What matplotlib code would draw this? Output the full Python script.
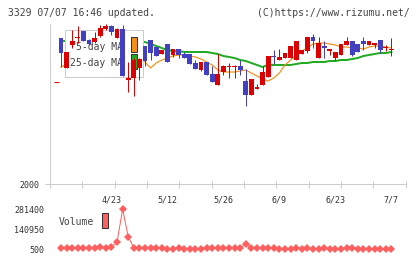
import matplotlib
matplotlib.use('Agg')
import matplotlib.pyplot as plt
from matplotlib.patches import Rectangle
import numpy as np

# daily candles
opens = [2438, 2348, 2417, 2438, 2459, 2432, 2426, 2444, 2465, 2474,
         2438, 2465, 2312, 2318, 2348, 2414, 2432, 2411, 2390, 2420,
         2387, 2405, 2390, 2390, 2363, 2342, 2366, 2330, 2297, 2336,
         2351, 2351, 2354, 2309, 2267, 2285, 2297, 2321, 2384, 2372,
         2378, 2378, 2372, 2390, 2399, 2441, 2378, 2414, 2399, 2378,
         2387, 2417, 2429, 2420, 2429, 2417, 2417, 2432, 2408, 2402]
highs = [2438, 2396, 2462, 2474, 2459, 2435, 2456, 2477, 2480, 2477,
         2468, 2477, 2366, 2378, 2378, 2414, 2432, 2411, 2402, 2420,
         2405, 2405, 2396, 2390, 2372, 2366, 2366, 2354, 2390, 2357,
         2363, 2357, 2372, 2345, 2315, 2300, 2354, 2384, 2402, 2405,
         2393, 2414, 2429, 2402, 2441, 2450, 2441, 2429, 2405, 2396,
         2420, 2441, 2429, 2420, 2441, 2429, 2423, 2432, 2417, 2438]
lows = [2351, 2348, 2408, 2423, 2429, 2417, 2423, 2441, 2462, 2447,
        2438, 2324, 2276, 2264, 2312, 2354, 2372, 2384, 2390, 2366,
        2381, 2378, 2378, 2360, 2345, 2339, 2327, 2306, 2297, 2327,
        2318, 2318, 2327, 2234, 2267, 2285, 2297, 2321, 2360, 2372,
        2378, 2378, 2372, 2390, 2393, 2408, 2378, 2378, 2387, 2372,
        2387, 2417, 2384, 2396, 2402, 2417, 2408, 2393, 2399, 2384]
closes = [2393, 2396, 2429, 2441, 2429, 2420, 2438, 2468, 2474, 2456,
          2465, 2324, 2318, 2372, 2375, 2369, 2393, 2384, 2402, 2366,
          2405, 2387, 2378, 2360, 2345, 2366, 2327, 2306, 2330, 2354,
          2354, 2354, 2342, 2267, 2315, 2291, 2336, 2384, 2381, 2381,
          2393, 2414, 2429, 2402, 2441, 2429, 2423, 2408, 2405, 2396,
          2420, 2429, 2387, 2396, 2420, 2429, 2423, 2402, 2411, 2405]

ma5 = [2351, 2360, 2378, 2396, 2414, 2423, 2432, 2438, 2447, 2450,
       2459, 2438, 2408, 2387, 2372, 2366, 2348, 2363, 2372, 2378,
       2384, 2387, 2387, 2384, 2381, 2375, 2366, 2357, 2342, 2336,
       2336, 2336, 2339, 2342, 2333, 2324, 2315, 2309, 2318, 2333,
       2357, 2372, 2387, 2399, 2408, 2420, 2423, 2423, 2420, 2417,
       2411, 2411, 2408, 2408, 2405, 2411, 2414, 2414, 2411, 2408]
ma25 = [2429, 2429, 2429, 2429, 2429, 2429, 2429, 2429, 2429, 2429,
        2429, 2429, 2426, 2426, 2426, 2426, 2420, 2414, 2408, 2402,
        2399, 2399, 2396, 2396, 2396, 2396, 2396, 2393, 2390, 2384,
        2381, 2378, 2372, 2369, 2363, 2357, 2351, 2357, 2357, 2357,
        2357, 2357, 2360, 2363, 2363, 2366, 2366, 2366, 2369, 2369,
        2372, 2372, 2375, 2378, 2384, 2387, 2390, 2393, 2393, 2396]

volumes = [11700, 7500, 7500, 7500, 7500, 7500, 7500, 14500, 11700, 18800,
           49700, 281400, 89000, 11700, 7500, 11700, 7500, 11700, 7500, 2600,
           2600, 7500, 2600, 2600, 2600, 2600, 7500, 11700, 7500, 7500,
           7500, 7500, 7500, 37700, 11700, 11700, 7500, 11700, 11700, 500,
           500, 2600, 11700, 2600, 11700, 2600, 2600, 7500, 2600, 2600,
           2600, 11700, 11700, 2600, 2600, 2600, 2600, 2600, 2600, 2600]

date_idx = [9, 19, 29, 39, 49, 59]
date_labels = ['4/23', '5/12', '5/26', '6/9', '6/23', '7/7']
price_ticks = [2000]
vol_ticks = [500, 140950, 281400]
vol_tick_labels = ['500', '140950', '281400']
low_mark = 2306

W, H = 420, 259
fig = plt.figure(figsize=(4.2, 2.59), dpi=100)
def fx(x): return x / W
def fy(y): return 1 - y / H
PX = 0.72  # one pixel in points

MONO = 'DejaVu Sans Mono'
UP, DOWN = '#dd0000', '#4040c0'
GRID = '#cccccc'

ax = fig.add_axes([fx(50), fy(184), fx(406) - fx(50), fy(24) - fy(184)])
axv = fig.add_axes([fx(50), fy(254), fx(406) - fx(50), fy(204) - fy(254)])

x = np.arange(len(closes))
o = np.array(opens); c = np.array(closes)
hi = np.array(highs); lo = np.array(lows)
up = c >= o
cols = np.where(up, UP, DOWN)

# moving averages (under the legend)
ax.plot(x, ma25, color='#22aa22', lw=2 * PX, zorder=2)
ax.plot(x, ma5, color='#f39019', lw=1.2 * PX, zorder=2)

# legend box
ax.add_patch(Rectangle((fx(65), fy(77)), fx(143) - fx(65), fy(30) - fy(77),
                       transform=fig.transFigure, facecolor='white',
                       edgecolor=GRID, lw=PX, zorder=2.5))
ax.text(fx(123), fy(46.5), '5-day MA', transform=fig.transFigure, ha='right',
        va='center', family=MONO, fontsize=7, color='#444444', zorder=2.6)
ax.text(fx(123), fy(63), '25-day MA', transform=fig.transFigure, ha='right',
        va='center', family=MONO, fontsize=7, color='#444444', zorder=2.6)
ax.add_patch(Rectangle((fx(131), fy(52)), fx(137) - fx(131), fy(37) - fy(52),
                       transform=fig.transFigure, facecolor='#f39019',
                       edgecolor='#333333', lw=PX, zorder=2.6))
ax.add_patch(Rectangle((fx(131), fy(69)), fx(137) - fx(131), fy(54) - fy(69),
                       transform=fig.transFigure, facecolor='#22aa22',
                       edgecolor='#333333', lw=PX, zorder=2.6))

# candles
ax.vlines(x, lo, hi, colors=cols, lw=PX, zorder=3)
body = np.maximum(np.abs(c - o), 2.5)
ax.bar(x, body, bottom=np.minimum(o, c), width=0.85, color=cols, lw=0, zorder=3.1)
ax.hlines(low_mark, -1.25, -0.35, colors=UP, lw=PX, zorder=3)

ax.set_xlim(-11 / 5.6, 345 / 5.6)
ax.set_ylim(2000, 2480)
for s in ['top', 'right']:
    ax.spines[s].set_visible(False)
for s in ['left', 'bottom']:
    ax.spines[s].set_color(GRID)
    ax.spines[s].set_linewidth(PX)
ax.set_yticks(price_ticks)
ax.set_yticklabels([str(t) for t in price_ticks])
ax.tick_params(axis='y', length=5 * PX, width=PX, color=GRID, pad=4.3,
               labelsize=6, labelcolor='#333333')
ax.set_xticks(date_idx)
ax.set_xticklabels(date_labels)
ax.tick_params(axis='x', which='major', length=0, pad=8, labelsize=6,
               labelcolor='#333333')
ax.set_xticks((np.linspace(50, 405.7, 12) - 61) / 5.6, minor=True)
ax.tick_params(axis='x', which='minor', length=7 * PX, width=PX, color=GRID,
               direction='inout')
for t in ax.get_xticklabels() + ax.get_yticklabels():
    t.set_family(MONO)

# volume
axv.plot(x, volumes, color='#ff5f5f', lw=PX, marker='D', ms=4.2, mew=0, zorder=3)
axv.set_xlim(-11 / 5.6, 345 / 5.6)
axv.set_ylim(-32500, 318620)
for s in axv.spines.values():
    s.set_visible(False)
axv.set_xticks([])
axv.set_yticks(vol_ticks)
axv.set_yticklabels(vol_tick_labels)
axv.tick_params(axis='y', length=0, pad=4.3, labelsize=6, labelcolor='#333333')
for t in axv.get_yticklabels():
    t.set_family(MONO)
axv.text(fx(59), fy(222), 'Volume', transform=fig.transFigure, ha='left',
         va='center', family=MONO, fontsize=7, color='#444444')
axv.add_patch(Rectangle((fx(102), fy(228)), fx(108) - fx(102), fy(213) - fy(228),
                        transform=fig.transFigure, facecolor='#ff5f5f',
                        edgecolor='#333333', lw=PX, zorder=3))

fig.text(fx(8), fy(12.5), '3329 07/07 16:46 updated.', ha='left', va='center',
         family=MONO, fontsize=7, color='#444444')
fig.text(fx(410), fy(12.5), '(C)https://www.rizumu.net/', ha='right', va='center',
         family=MONO, fontsize=7, color='#444444')

fig.savefig('out.png', dpi=100)
